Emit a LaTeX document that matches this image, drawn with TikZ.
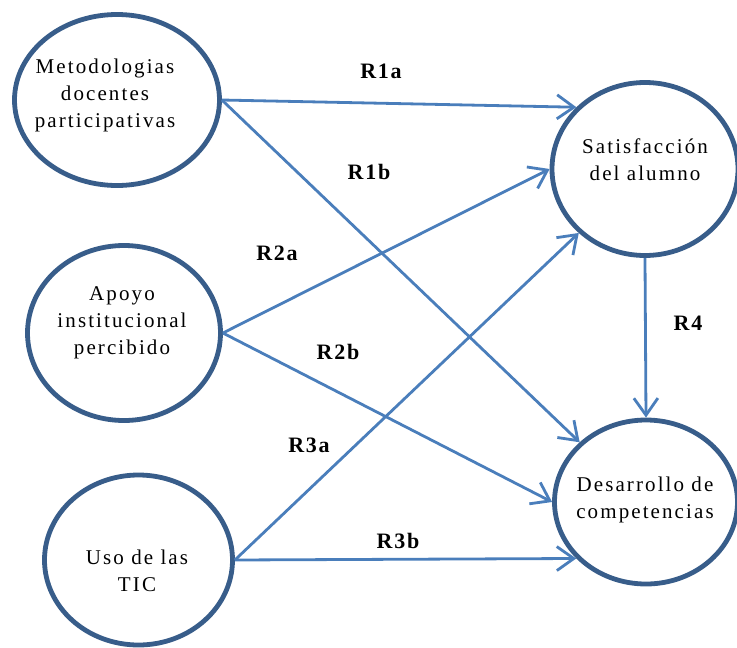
\documentclass[tikz,border=0pt]{standalone}
\usepackage{fontspec}
\newfontfamily\nodefont{Liberation Serif}[LetterSpace=10]
\newfontfamily\labfont{Liberation Serif}[LetterSpace=8]
\usetikzlibrary{shapes.geometric,arrows.meta}
\definecolor{ringblue}{RGB}{56,93,138}
\definecolor{arrowblue}{RGB}{74,126,187}
\tikzset{
  ring/.style={ellipse,draw=ringblue,line width=4.8pt,inner sep=0pt,fill=white},
  ringtext/.style={align=center,inner sep=0pt,font=\nodefont\fontsize{21}{27}\selectfont},
  rel/.style={draw=arrowblue,line width=2.8pt,-{Straight Barb[length=17pt,width=24pt]}},
  rlab/.style={inner sep=0pt,font=\labfont\bfseries\fontsize{22}{26}\selectfont}
}
\begin{document}
\begin{tikzpicture}[x=1pt,y=-1pt]
\useasboundingbox (0,0) rectangle (737,648);
% ellipses
\node[ring,minimum width=205pt,minimum height=171pt] (m) at (117,100) {};
\node[ring,minimum width=193pt,minimum height=175pt] (a) at (124,333) {};
\node[ring,minimum width=188pt,minimum height=170pt] (t) at (138.5,560) {};
\node[ring,minimum width=186pt,minimum height=173pt] (s) at (645,169) {};
\node[ring,minimum width=183pt,minimum height=164pt] (d) at (646,502) {};
% texts
\node[ringtext] (mt) at (105,95) {Metodologias\\docentes\\participativas};
\node[ringtext] (at) at (122,323) {Apoyo\\institucional\\percibido};
\node[ringtext] (tt) at (137,571) {Uso de las\\TIC};
\node[ringtext] (st) at (645,160) {Satisfacción\\del alumno};
\node[ringtext] (dt) at (645,500) {Desarrollo de\\competencias};
% connectors
\draw[rel] (m.east) -- (s.138);
\draw[rel] (m.east) -- (d.138);
\draw[rel] (a.east) -- (s.180);
\draw[rel] (a.east) -- (d.180);
\draw[rel] (t.east) -- (s.224);
\draw[rel] (t.east) -- (d.219);
\draw[rel] (s.270) -- (d.90);
% labels
\node[rlab] (l1a) at (381,71) {R1a};
\node[rlab] (l1b) at (369,172) {R1b};
\node[rlab] (l2a) at (277,253) {R2a};
\node[rlab] (l2b) at (338,352) {R2b};
\node[rlab] (l3a) at (309,445) {R3a};
\node[rlab] (l3b) at (398,541) {R3b};
\node[rlab] (l4) at (688,323) {R4};
\end{tikzpicture}
\end{document}
